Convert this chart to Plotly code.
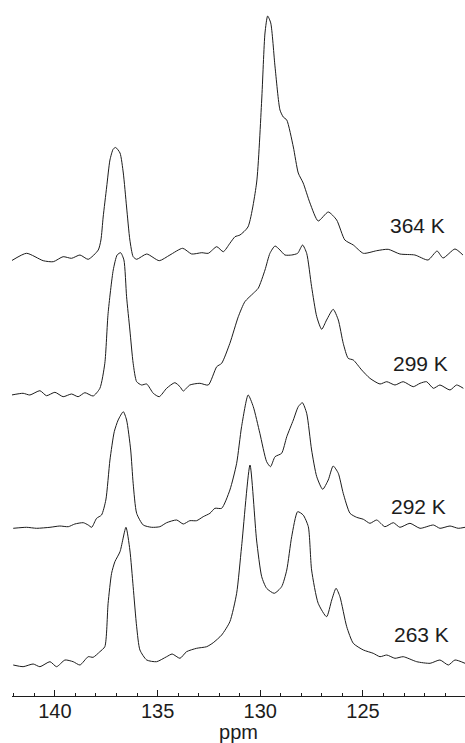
import plotly.graph_objects as go

# --- data (ppm, intensity in arbitrary units above each baseline) ---
labels = ["364 K", "299 K", "292 K", "263 K"]
offsets = [437, 301, 168, 31]

ppm_364 = [142.11, 141.38, 140.57, 140.08, 139.60, 139.19, 138.78, 138.38, 137.89, 137.76,
           137.65, 137.48, 137.32, 137.16, 137.04, 136.83, 136.67, 136.51, 136.35, 136.19,
           136.02, 135.53, 134.92, 134.40, 133.78, 133.34, 132.85, 132.53, 132.12, 131.80,
           131.48, 131.23, 130.99, 130.60, 130.18, 129.93, 129.77, 129.64, 129.49, 129.28,
           129.04, 128.88, 128.71, 128.39, 128.15, 127.91, 127.58, 127.18, 126.69, 126.28,
           125.88, 125.47, 124.98, 124.33, 123.77, 123.20, 122.47, 121.83, 121.39, 121.10,
           120.52, 120.13]
int_364 = [-1.7, 5.7, -1.7, -2.7, 2.3, 0.7, 4, -0.3, 9, 19,
           42, 72, 99, 110, 111.5, 106, 86, 52, 19, 2.3,
           -0.3, 5, -1.7, 4, 10.7, 5, 6.3, 5.7, 12.3, 7.3,
           15.7, 22.3, 24, 32, 76, 159, 226, 243, 236, 192,
           149, 142, 139, 112, 86, 76, 56, 38, 47, 39,
           19, 14, 5.7, 8.3, 9.7, 5, 4, -1, 8, 1,
           10, 4]

ppm_299 = [142.11, 141.55, 141.22, 140.73, 140.41, 140.00, 139.60, 139.19, 138.87, 138.54,
           138.14, 137.81, 137.57, 137.41, 137.16, 136.97, 136.80, 136.64, 136.51, 136.35,
           136.19, 136.02, 135.78, 135.53, 135.21, 134.92, 134.56, 134.16, 133.91, 133.75,
           133.43, 132.94, 132.53, 132.12, 131.88, 131.48, 131.07, 130.75, 130.34, 130.10,
           129.77, 129.53, 129.28, 129.04, 128.80, 128.47, 128.18, 127.94, 127.74, 127.50,
           127.25, 127.01, 126.77, 126.45, 126.20, 125.96, 125.72, 125.47, 125.06, 124.66,
           124.17, 123.84, 123.44, 123.04, 122.55, 122.22, 121.90, 121.57, 121.25, 120.76,
           120.44, 120.11]
int_299 = [0, 1.7, 0, 4.3, -0.7, 2.7, -1.7, 1, -1.7, 2.3,
           -1, 6.7, 31.7, 81.7, 125, 140, 142.3, 135, 98.3, 65,
           31.7, 13.3, 10, 11, 1.7, -1.7, 6.7, 12.3, 8.3, 4,
           10, 11.7, 10, 28.3, 31.7, 51.7, 78.3, 93.3, 101.7, 106.7,
           125, 141.7, 149, 145, 140, 140, 141.7, 150, 141.7, 108.3,
           78.3, 65.7, 75, 85.7, 75, 51.7, 36.7, 35, 25, 16.7,
           11, 13.3, 10, 13.3, 8.3, 11.7, 13.3, 6.7, 10, 5,
           10, 6.7]

ppm_292 = [142.03, 141.38, 140.89, 140.24, 139.76, 139.35, 139.03, 138.62, 138.38, 138.21,
           137.97, 137.73, 137.52, 137.32, 137.11, 136.92, 136.67, 136.51, 136.31, 136.19,
           136.02, 135.70, 135.29, 134.89, 134.56, 134.07, 133.75, 133.43, 133.10, 132.78,
           132.45, 132.21, 131.88, 131.48, 131.15, 130.91, 130.59, 130.34, 130.02, 129.69,
           129.50, 129.28, 128.96, 128.71, 128.39, 128.15, 127.95, 127.74, 127.50, 127.25,
           126.96, 126.69, 126.45, 126.20, 125.96, 125.63, 125.31, 124.98, 124.66, 124.33,
           123.93, 123.52, 123.20, 122.71, 122.22, 121.57, 121.25, 120.76, 120.36, 120.03]
int_292 = [-0.3, 0.7, -0.3, 0.7, 2, 1.3, 4, 5.3, 3, 0.7,
           9.7, 13, 28, 68, 96.3, 108, 116.3, 108, 78, 44.7,
           14.7, 3, 0.7, 1.3, 5.3, 8, 4, 7.3, 7.3, 11.3,
           14.7, 19.7, 19.7, 38, 64.7, 101.3, 133, 121.3, 94.7, 66.3,
           61.3, 71.3, 74.7, 91.3, 108, 121.3, 125.3, 114.7, 78, 51.3,
           38.7, 48, 62, 54.7, 34.7, 14.7, 10.7, 8.7, 4.7, 8,
           1.3, 5.3, 0.7, 4.7, -0.3, 3, -0.3, 2, -0.3, 0.7]

ppm_263 = [142.03, 141.55, 141.06, 140.73, 140.24, 139.92, 139.51, 139.11, 138.78, 138.38,
           138.14, 137.81, 137.57, 137.41, 137.24, 137.08, 136.83, 136.54, 136.35, 136.19,
           136.02, 135.86, 135.53, 135.05, 134.56, 134.29, 133.91, 133.59, 133.10, 132.61,
           132.29, 131.88, 131.48, 131.15, 130.91, 130.50, 130.18, 129.93, 129.69, 129.32,
           128.96, 128.71, 128.47, 128.18, 127.91, 127.66, 127.50, 127.18, 126.77, 126.52,
           126.31, 126.12, 125.79, 125.47, 124.98, 124.50, 124.17, 123.84, 123.44, 123.04,
           122.38, 121.73, 121.25, 120.84, 120.52, 120.03]
int_263 = [0, -1.7, 1, -1.7, 3.3, -1.7, 5, 3.3, 0, 8.3,
           7.7, 13.3, 18.3, 61.7, 91.7, 103.3, 113.3, 137.7, 115, 78.3,
           38.3, 15, 5, 3.3, 8.3, 11, 6.7, 13.3, 16.7, 18.3,
           22.3, 30, 43.3, 71.7, 118.3, 200, 125, 88.3, 76.7, 71.7,
           78.3, 95, 128.3, 153.3, 150, 138.3, 95, 61.7, 48.3, 65,
           76.7, 68.3, 38.3, 21.7, 15, 11.7, 8.3, 10, 6.7, 8.3,
           3.3, 1.7, 5, 0, 5, 1.7]

x_ticks = [140, 135, 130, 125]

series = [(ppm_364, int_364), (ppm_299, int_299), (ppm_292, int_292), (ppm_263, int_263)]

FONT = "Liberation Sans, Arial, Helvetica, sans-serif"
INK = "#1c1c1c"

fig = go.Figure()
for (xs, ys), off, lab in zip(series, offsets, labels):
    fig.add_trace(go.Scatter(
        x=xs, y=[v + off for v in ys], mode="lines", name=lab,
        line=dict(color=INK, width=1, shape="spline", smoothing=0.6),
        hoverinfo="skip", showlegend=False,
    ))

label_pos = [(122.34, 471), (122.22, 333), (122.31, 190), (122.17, 62)]
for lab, (lx, ly) in zip(labels, label_pos):
    fig.add_annotation(x=lx, y=ly, xref="x", yref="y", text=lab, showarrow=False,
                       font=dict(family=FONT, size=21, color=INK))

fig.update_xaxes(
    range=[142.09, 120.03], tickvals=x_ticks, ticktext=[str(t) for t in x_ticks],
    ticks="inside", ticklen=6, tickwidth=1, tickcolor=INK, ticklabelstandoff=-3,
    minor=dict(dtick=1, tick0=0, ticks="inside", ticklen=3, tickwidth=1, tickcolor=INK),
    showline=True, linecolor=INK, linewidth=1, showgrid=False, zeroline=False,
    tickfont=dict(family=FONT, size=20, color=INK),
    title=dict(text="ppm", font=dict(family=FONT, size=20, color=INK), standoff=0),
    automargin=False,
)
fig.update_yaxes(range=[0, 696], visible=False, showgrid=False, zeroline=False)

fig.update_layout(
    width=465, height=743,
    margin=dict(l=12, r=0, t=0, b=47),
    plot_bgcolor="white", paper_bgcolor="white",
)

fig.write_html("out.html", config={"displayModeBar": False},
               post_script="document.body.style.margin='0';")
